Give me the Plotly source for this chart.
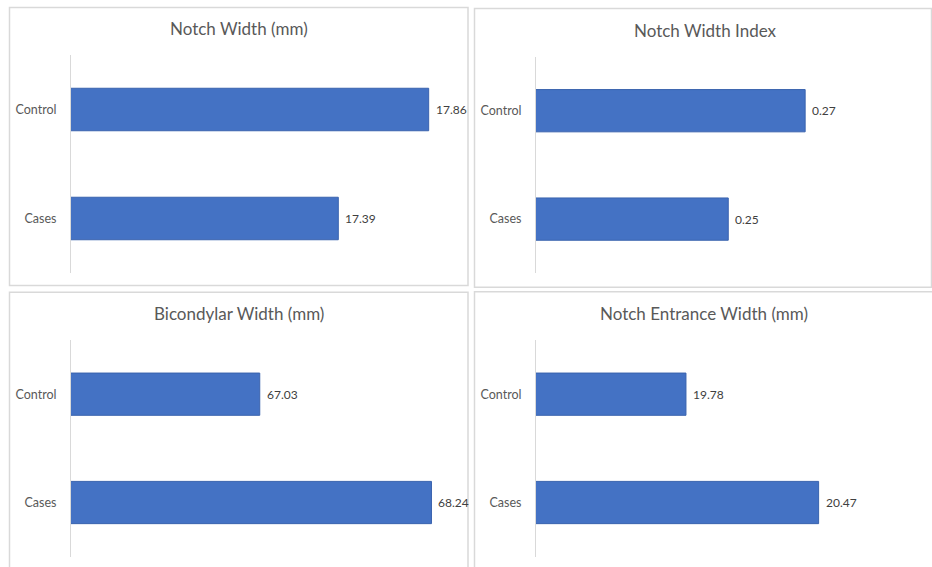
import plotly.graph_objects as go

W, H = 932, 567

categories = ["Cases", "Control"]
titles = ["Notch Width (mm)", "Notch Width Index", "Bicondylar Width (mm)", "Notch Entrance Width (mm)"]
notch_width = [17.39, 17.86]
notch_width_index = [0.25, 0.27]
bicondylar_width = [68.24, 67.03]
notch_entrance_width = [20.47, 19.78]
value_labels = [["17.39", "17.86"], ["0.25", "0.27"], ["68.24", "67.03"], ["20.47", "19.78"]]
x_ranges = [[16, 18], [0.2, 0.3], [65.7, 68.41], [19, 21]]

series = [notch_width, notch_width_index, bicondylar_width, notch_entrance_width]

# pixel layout helpers
def px(x):
    return x / W

def py(y):
    return 1 - y / H

plot_boxes = [  # (x0, x1, ytop, ybottom) in pixels
    (71, 455.6, 55, 273),
    (536, 920.5, 56.5, 273.3),
    (71, 455.6, 340, 556.7),
    (536, 920.5, 340, 556.7),
]
panel_boxes = [
    (9.5, 468, 7.5, 285.5),
    (474.5, 931.5, 8.5, 287.3),
    (9.5, 468, 292.3, 570),
    (474.5, 935, 291.7, 570),
]
title_pos = [(239, 28.5), (705, 30), (239, 313), (704, 313)]

FONT = "Lato"
TXT = "#595959"
BAR = "#4472C4"

fig = go.Figure()
shapes = []
annotations = []

for i in range(4):
    xa = "x" if i == 0 else f"x{i+1}"
    ya = "y" if i == 0 else f"y{i+1}"
    fig.add_trace(go.Bar(
        x=series[i], y=categories, orientation="h",
        marker=dict(color=BAR, line=dict(color="#3A63AE", width=1)),
        xaxis=xa, yaxis=ya, showlegend=False, hoverinfo="x+y",
    ))
    x0, x1, yt, yb = plot_boxes[i]
    xkey = "xaxis" if i == 0 else f"xaxis{i+1}"
    ykey = "yaxis" if i == 0 else f"yaxis{i+1}"
    fig.update_layout({
        xkey: dict(domain=[px(x0), px(x1)], range=x_ranges[i], anchor=ya,
                   showgrid=False, zeroline=False, showticklabels=False,
                   showline=False, ticks=""),
        ykey: dict(domain=[py(yb), py(yt)], anchor=xa, type="category",
                   categoryorder="array", categoryarray=categories,
                   showline=True, linecolor="#d9d9d9", linewidth=1,
                   showgrid=False, zeroline=False, ticks="",
                   ticklabelstandoff=11,
                   tickfont=dict(family=FONT, size=12.5, color=TXT)),
    })
    for v, lab, cat in zip(series[i], value_labels[i], categories):
        annotations.append(dict(
            x=v, y=cat, xref=xa, yref=ya, text=lab, showarrow=False,
            xanchor="left", yanchor="middle", xshift=5,
            font=dict(family=FONT, size=12, color="#404040"),
        ))
    bx0, bx1, by0, by1 = panel_boxes[i]
    shapes.append(dict(type="rect", xref="paper", yref="paper",
                       x0=px(bx0), x1=px(bx1), y0=py(by1), y1=py(by0),
                       line=dict(color="#d9d9d9", width=1.5), layer="below"))
    tx, ty = title_pos[i]
    annotations.append(dict(
        x=px(tx), y=py(ty), xref="paper", yref="paper", text=titles[i],
        showarrow=False, xanchor="center", yanchor="middle",
        font=dict(family=FONT, size=17, color=TXT),
    ))

fig.update_layout(
    width=W, height=H, margin=dict(l=0, r=0, t=0, b=0),
    paper_bgcolor="white", plot_bgcolor="rgba(0,0,0,0)",
    bargap=0.61, shapes=shapes, annotations=annotations,
)

fig.write_html("out.html")
